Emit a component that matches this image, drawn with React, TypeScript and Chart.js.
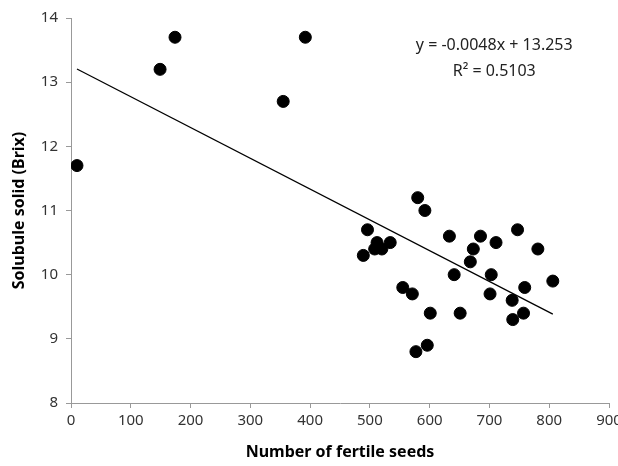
import React, { useEffect, useRef } from "react";
import { Chart, registerables } from "chart.js";

Chart.register(...registerables);

const seeds = [10, 149, 174, 355, 392, 580, 592, 496, 512, 534, 489, 508, 520, 633, 685, 711, 747, 673, 781, 668, 641, 703, 806, 555, 571, 701, 759, 738, 601, 651, 757, 739, 577, 596];
const brix = [11.7, 13.2, 13.7, 12.7, 13.7, 11.2, 11.0, 10.7, 10.5, 10.5, 10.3, 10.4, 10.4, 10.6, 10.6, 10.5, 10.7, 10.4, 10.4, 10.2, 10.0, 10.0, 9.9, 9.8, 9.7, 9.7, 9.8, 9.6, 9.4, 9.4, 9.4, 9.3, 8.8, 8.9];
const slope = -0.0048;
const intercept = 13.253;
const equationLines = ["y = -0.0048x + 13.253", "R² = 0.5103"];
const xTitle = "Number of fertile seeds";
const yTitle = "Solubule solid (Brix)";

const FONT = "'Noto Sans', 'DejaVu Sans', sans-serif";

export default function App() {
  const ref = useRef<HTMLCanvasElement>(null);
  useEffect(() => {
    document.body.style.margin = "0";
    const points = seeds.map((x, i) => ({ x, y: brix[i] }));
    const xmin = Math.min(...seeds);
    const xmax = Math.max(...seeds);
    const trend = [
      { x: xmin, y: intercept + slope * xmin },
      { x: xmax, y: intercept + slope * xmax },
    ];
    const eqPlugin = {
      id: "eq",
      afterDraw(chart: any) {
        const ctx = chart.ctx;
        const xs = chart.scales.x;
        const ys = chart.scales.y;
        ctx.save();
        ctx.fillStyle = "#222";
        ctx.font = `16px ${FONT}`;
        ctx.textAlign = "center";
        ctx.textBaseline = "middle";
        ctx.fillText(equationLines[0], xs.getPixelForValue(708), ys.getPixelForValue(13.58));
        ctx.fillText(equationLines[1], xs.getPixelForValue(708), ys.getPixelForValue(13.16));
        ctx.restore();
      },
    };
    const chart = new Chart(ref.current!, {
      type: "scatter",
      data: {
        datasets: [
          {
            data: points,
            backgroundColor: "#000",
            borderColor: "#000",
            pointRadius: 6,
            pointHoverRadius: 6,
          },
          {
            type: "line",
            data: trend,
            borderColor: "#000",
            borderWidth: 1.3,
            pointRadius: 0,
            fill: false,
          } as any,
        ],
      },
      options: {
        animation: false,
        responsive: false,
        maintainAspectRatio: false,
        layout: { padding: { top: 18, right: 9, left: 0, bottom: 0 } },
        plugins: { legend: { display: false }, tooltip: { enabled: false } },
        scales: {
          x: {
            type: "linear",
            min: 0,
            max: 900,
            afterFit: (s: any) => { s.height = 63; s.paddingLeft = 0; s.paddingRight = 0; },
            ticks: { stepSize: 100, color: "#333", font: { family: FONT, size: 15 }, padding: 4 },
            grid: { drawOnChartArea: false, drawTicks: true, tickLength: 5, color: "#999" },
            border: { color: "#999", width: 1 },
            title: { display: true, text: xTitle, color: "#000", font: { family: FONT, size: 16, weight: "bold" }, padding: { top: 8 } },
          },
          y: {
            type: "linear",
            min: 8,
            max: 14,
            afterFit: (s: any) => { s.width = 71; s.paddingTop = 0; s.paddingBottom = 0; },
            ticks: { stepSize: 1, color: "#333", font: { family: FONT, size: 15 }, padding: 8 },
            grid: { drawOnChartArea: false, drawTicks: true, tickLength: 5, color: "#999" },
            border: { color: "#999", width: 1 },
            title: { display: true, text: yTitle, color: "#000", font: { family: FONT, size: 16, weight: "bold" }, padding: { top: 10, bottom: 0 } },
          },
        },
      },
      plugins: [eqPlugin],
    });
    return () => chart.destroy();
  }, []);
  return (
    <div style={{ position: "fixed", left: 0, top: 0, width: 618, height: 466, background: "#fff" }}>
      <canvas ref={ref} width={618} height={466} style={{ width: 618, height: 466 }} />
    </div>
  );
}
